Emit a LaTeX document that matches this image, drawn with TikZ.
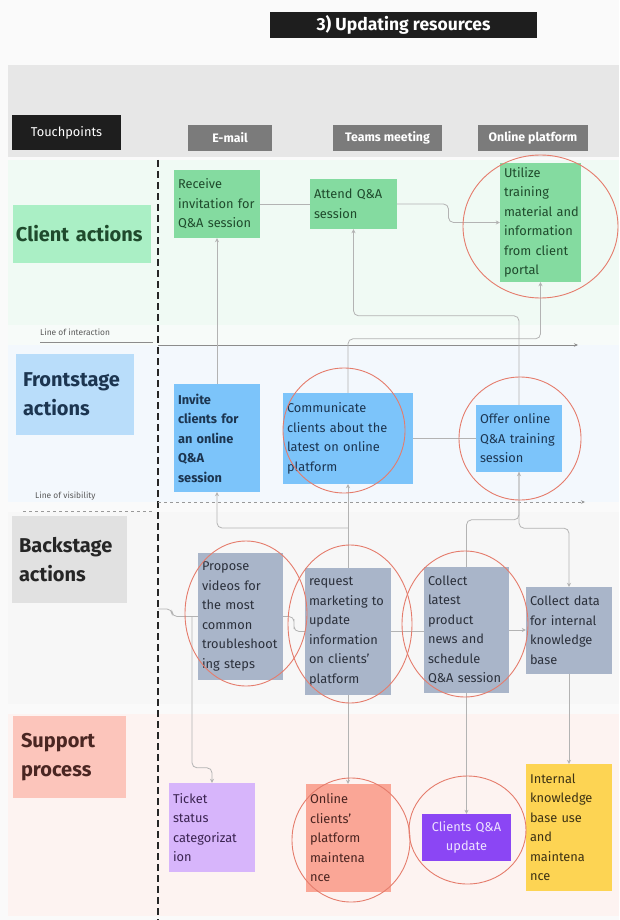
\documentclass[tikz,border=0pt]{standalone}
\usepackage{fontspec}
\setmainfont{Fira Sans}
\usetikzlibrary{arrows.meta,calc}

\definecolor{pagebg}{HTML}{FAFAFA}
\definecolor{bandgray}{HTML}{E7E7E7}
\definecolor{laneclient}{HTML}{F0FAF4}
\definecolor{lanestrip}{HTML}{F7FBF9}
\definecolor{lanefront}{HTML}{F3F8FD}
\definecolor{laneback}{HTML}{F7F7F7}
\definecolor{lanesupport}{HTML}{FDF3F1}
\definecolor{greencard}{HTML}{84DBA0}
\definecolor{greenlabel}{HTML}{AAEFC5}
\definecolor{greentext}{HTML}{1F4A2C}
\definecolor{bluecard}{HTML}{7CC4FA}
\definecolor{bluelabel}{HTML}{B9DDFA}
\definecolor{bluetext}{HTML}{1C3550}
\definecolor{slatecard}{HTML}{A9B5C9}
\definecolor{graylabel}{HTML}{E1E1E1}
\definecolor{slatetext}{HTML}{2B303B}
\definecolor{pinklabel}{HTML}{FCC5BB}
\definecolor{pinktext}{HTML}{4A2622}
\definecolor{lilaccard}{HTML}{D7B5FB}
\definecolor{lilactext}{HTML}{3A2350}
\definecolor{salmoncard}{HTML}{FAA696}
\definecolor{salmontext}{HTML}{4A2420}
\definecolor{violetcard}{HTML}{8B46F4}
\definecolor{violettext}{HTML}{EEE2FF}
\definecolor{ambercard}{HTML}{FDD453}
\definecolor{ambertext}{HTML}{3D3214}
\definecolor{ringred}{HTML}{E57C6C}
\definecolor{wirecol}{HTML}{B3B3B3}
\definecolor{tabgray}{HTML}{7B7B7B}
\definecolor{inkblack}{HTML}{1E1E1E}

\tikzset{
  card/.style={rectangle, align=left, inner xsep=4pt, inner ysep=1pt,
    font=\fontsize{12.8}{19.5}\selectfont},
  sz/.code 2 args={\pgfmathsetmacro\cardtw{#1-8}%
    \edef\cardtmp{\noexpand\pgfkeysalso{minimum width=#1pt, minimum height=#2pt, text width=\cardtw pt}}\cardtmp},
  lanelabel/.style={rectangle, align=left, inner xsep=7pt, inner ysep=1pt,
    font=\bfseries\fontsize{20}{29}\selectfont},
  tab/.style={rectangle, fill=tabgray, text=white, inner sep=0pt,
    font=\bfseries\fontsize{12.3}{14}\selectfont, minimum height=26pt},
  wire/.style={draw=wirecol, line width=0.8pt, rounded corners=5pt},
  flow/.style={wire, -{Stealth[length=4pt,width=4pt]}},
  ring/.style={draw=ringred, line width=0.9pt},
  linelabel/.style={inner sep=0pt, text=black!65, font=\fontsize{8.4}{10}\selectfont},
}

\begin{document}
\begin{tikzpicture}[x=1pt,y=-1pt]
\useasboundingbox (0,0) rectangle (619,920);

% page, header band and swim lanes
\fill[pagebg] (0,0) rectangle (619,920);
\fill[bandgray] (8,65) rectangle (619,157);
\fill[laneclient] (8,160) rectangle (619,325);
\fill[lanestrip] (8,325) rectangle (619,345);
\fill[lanefront] (8,345) rectangle (619,502);
\fill[laneback] (8,512) rectangle (619,704);
\fill[lanesupport] (8,714) rectangle (619,916);

% title and touchpoint tabs
\node[rectangle, fill=inkblack, text=white, minimum width=267pt, minimum height=26pt,
  font=\bfseries\fontsize{17.5}{20}\selectfont] (title) at (403.5,25) {3) Updating resources};
\node[rectangle, fill=inkblack, text=white, minimum width=109pt, minimum height=35pt,
  font=\fontsize{12.8}{15}\selectfont] (touch) at (66.5,132.5) {Touchpoints};
\node[tab, minimum width=84pt] (tabmail) at (230,138) {E-mail};
\node[tab, minimum width=109pt] (tabteams) at (387.5,138) {Teams meeting};
\node[tab, minimum width=110pt] (tabportal) at (533,138) {Online platform};

% line between customer and staff
\draw[black!85, line width=1.6pt, dash pattern=on 7pt off 4pt] (158,160) -- (158,920);

% lane labels
\node[lanelabel, inner xsep=3pt, fill=greenlabel, text=greentext, minimum width=138pt, minimum height=58pt, text width=132pt] (labclient) at (82,234) {Client actions};
\node[lanelabel, fill=bluelabel, text=bluetext, minimum width=118pt, minimum height=81pt, text width=104pt] (labfront) at (75,394.5) {Frontstage\\actions};
\node[lanelabel, fill=graylabel, text=black!85, minimum width=115pt, minimum height=87pt, text width=101pt] (labback) at (69.5,559.5) {Backstage\\actions};
\node[lanelabel, inner xsep=8pt, fill=pinklabel, text=pinktext, minimum width=113pt, minimum height=82pt, text width=97pt] (labsupport) at (69.5,757) {Support\\process};

% lines of interaction and visibility
\node[linelabel, anchor=base west] (lint) at (40,335) {Line of interaction};
\draw[black!45, line width=0.6pt] (40,342) -- (153,342);
\draw[black!45, line width=0.8pt, -{Stealth[length=4pt,width=3.5pt]}] (158,345) -- (578,345);
\node[linelabel, anchor=base west] (lvis) at (35,498) {Line of visibility};
\draw[black!40, line width=0.6pt, dashed] (23,511) -- (153,511);
\draw[black!40, line width=0.7pt, dashed, -{Stealth[length=4pt,width=3.5pt]}] (158,502) -- (585,502);

% client actions
\node[card, sz={86}{68}, fill=greencard, text=greentext] (recv) at (217,204) {Receive\\invitation~for\\Q\&A~session};
\node[card, sz={87}{50}, fill=greencard, text=greentext] (attend) at (353.5,204) {Attend~Q\&A\\session};
\node[card, sz={81}{119}, fill=greencard, text=greentext] (util) at (540.5,222.5) {Utilize\\training\\material~and\\information\\from~client\\portal};

% frontstage actions
\node[card, sz={86}{108}, fill=bluecard, text=bluetext, font=\bfseries\fontsize{12.8}{19.5}\selectfont] (invite) at (217,438) {Invite\\clients~for\\an~online\\Q\&A\\session};
\node[card, sz={130}{91}, fill=bluecard, text=bluetext] (comm) at (348,438.5) {Communicate\\clients~about~the\\latest~on~online\\platform};
\node[card, sz={86}{67}, fill=bluecard, text=bluetext] (offer) at (519,438.5) {Offer~online\\Q\&A~training\\session};

% backstage actions
\node[card, sz={85}{127}, fill=slatecard, text=slatetext] (propose) at (240.5,616.5) {Propose\\videos~for\\the~most\\common\\troubleshoot\\ing~steps};
\node[card, sz={86}{127}, fill=slatecard, text=slatetext] (request) at (348,631.5) {request\\marketing~to\\update\\information\\on~clients’\\platform};
\node[card, sz={85}{126}, fill=slatecard, text=slatetext] (coll) at (466.5,630) {Collect\\latest\\product\\news~and\\schedule\\Q\&A~session};
\node[card, sz={86}{87}, fill=slatecard, text=slatetext] (data) at (569,630.5) {Collect~data\\for~internal\\knowledge\\base};

% support processes
\node[card, sz={86}{89}, fill=lilaccard, text=lilactext] (ticket) at (212,827.5) {Ticket\\status\\categorizat\\ion};
\node[card, sz={85}{108}, fill=salmoncard, text=salmontext] (online) at (348.5,838) {Online\\clients’\\platform\\maintena\\nce};
\node[card, sz={89}{47}, align=center, fill=violetcard, text=violettext] (clientsqa) at (466.5,837.5) {Clients~Q\&A\\update};
\node[card, sz={86}{127}, fill=ambercard, text=ambertext] (internal) at (569,827.5) {Internal\\knowledge\\base~use\\and\\maintena\\nce};

% connectors
\draw[wire] (recv.east) -- (attend.west);
\draw[flow] (attend.east) -| ($(attend.east)!0.5!(util.west)$) |- (util.west);
\draw[flow] (invite.north) -- (recv.south);
\draw[flow] (request.north) -- (comm.south);
\coordinate (joinA) at (348,528);
\draw[flow] (joinA) -| (invite.south);
\draw[flow] (comm.north) -- ++(0,-54) -| (util.south);
\draw[flow] (offer.north) -- ++(0,-89) -| (attend.south);
\draw[wire] (comm.east) -- (offer.west);
\draw[flow] (coll.north) -- ++(0,-47) -| (offer.south);
\draw[flow] (offer.south) -- ++(0,56) -| (data.north);
\draw[flow] (coll.east) -- (data.west |- coll.east);
\draw[wire] (request.east) -- (coll.west |- request.east);
\draw[wire] (propose.east) -| ($(propose.east)!0.5!(request.west)$) |- (request.west);
\coordinate (stubA) at (158,609);
\draw[wire] (stubA) -- ++(14,0) |- (propose.west);
\coordinate (tk) at (192,616.5);
\draw[flow] (tk) |- ([yshift=15pt]ticket.north) -- (ticket.north);
\draw[flow] (request.south) -- (request.south |- online.north);
\draw[flow] (coll.south) -- (clientsqa.north);
\draw[flow] (data.south) -- (internal.north);

% highlight rings
\draw[ring] (540.5,226.5) ellipse [x radius=77.5pt, y radius=71.5pt];
\draw[ring] (344,430.5) ellipse [x radius=61pt, y radius=62.5pt];
\draw[ring] (520,438.5) ellipse [x radius=61pt, y radius=61.5pt];
\draw[ring] (246,613.5) ellipse [x radius=61pt, y radius=72.5pt];
\draw[ring] (350,624) ellipse [x radius=62pt, y radius=79pt];
\draw[ring] (465,624) ellipse [x radius=63pt, y radius=73pt];
\draw[ring] (351,840) ellipse [x radius=59pt, y radius=62pt];
\draw[ring] (467.5,830) ellipse [x radius=58.5pt, y radius=54pt];
\end{tikzpicture}
\end{document}
